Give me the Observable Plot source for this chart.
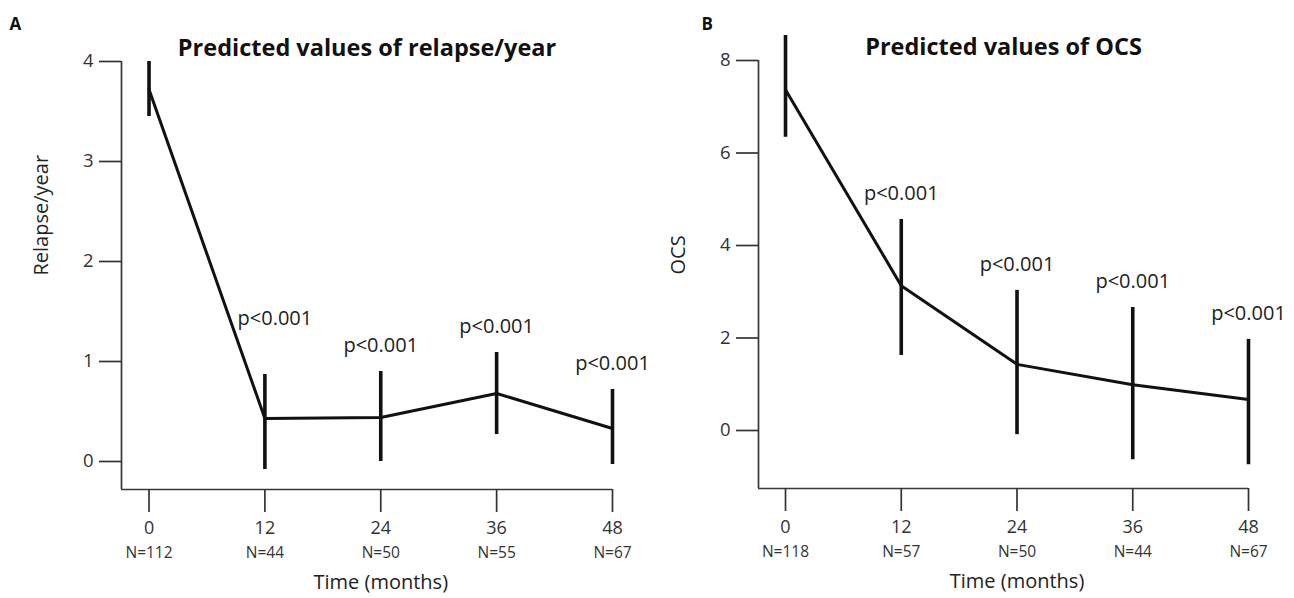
<!DOCTYPE html>
<html>
<head>
<meta charset="utf-8">
<script src="https://cdn.jsdelivr.net/npm/d3@7"></script>
<script src="https://cdn.jsdelivr.net/npm/@observablehq/plot@0.6"></script>
<style>
  body { margin: 0; background: #fff; }
  #wrap { position: relative; width: 1294px; height: 598px; overflow: hidden; font-family: "Open Sans", sans-serif; }
  .panel { position: absolute; top: 0; }
</style>
</head>
<body>
<div id="wrap"></div>
<script>
// ---- data ----
const months = [0, 12, 24, 36, 48];

const relapseMean = [3.72, 0.43, 0.44, 0.68, 0.33];
const relapseLow  = [3.45, -0.08, 0.00, 0.27, -0.03];
const relapseHigh = [4.00, 0.87, 0.90, 1.09, 0.72];
const relapseN    = [112, 44, 50, 55, 67];
const relapseTicks = [0, 1, 2, 3, 4];

const ocsMean = [7.37, 3.13, 1.43, 0.99, 0.67];
const ocsLow  = [6.34, 1.62, -0.09, -0.63, -0.74];
const ocsHigh = [8.54, 4.56, 3.03, 2.66, 1.97];
const ocsN    = [118, 57, 50, 44, 67];
const ocsTicks = [0, 2, 4, 6, 8];

const pLabels = ["", "p<0.001", "p<0.001", "p<0.001", "p<0.001"];

// ---- drawing ----
const AXIS = "#383838";
const INK = "#111";
const FONT = '"Open Sans", sans-serif';

function panel(cfg) {
  const rows = months.map((t, i) => ({
    t, mean: cfg.mean[i], lo: cfg.lo[i], hi: cfg.hi[i], n: cfg.n[i], p: pLabels[i], i
  }));
  const pRows = rows.filter(d => d.p);
  const firstP = pRows.filter((d, k) => k === 0);
  const restP = pRows.filter((d, k) => k > 0);
  return Plot.plot({
    width: 647,
    height: 598,
    marginLeft: cfg.ml,
    marginRight: cfg.mr,
    marginTop: cfg.mt,
    marginBottom: cfg.mb,
    style: { fontFamily: FONT, fontSize: "18px", color: "#333", background: "transparent", overflow: "visible" },
    x: { domain: cfg.xDomain, axis: null },
    y: { domain: cfg.yDomain, axis: null },
    marks: [
      // frame lines (left and bottom)
      Plot.ruleX([cfg.xDomain[0]], { stroke: AXIS, strokeWidth: 1.7 }),
      Plot.ruleY([cfg.yDomain[0]], { stroke: AXIS, strokeWidth: 1.7 }),
      // y axis
      Plot.axisY(cfg.yTicks, { tickSize: 22, tickPadding: 6, fontSize: 18.5, label: null, color: "#333", strokeWidth: 1.7, tickFormat: d => String(d) }),
      // x axis
      Plot.axisX(months, { tickSize: 23, tickPadding: 9, fontSize: 18, label: null, color: "#333", strokeWidth: 1.7, tickFormat: d => String(d) }),
      // N labels
      Plot.text(rows, { x: "t", frameAnchor: "bottom", dy: 68, text: d => "N=" + d.n, fontSize: 15.5, fill: "#333" }),
      // x label
      Plot.text(["Time (months)"], { x: () => 24, frameAnchor: "bottom", dy: 99, fontSize: 20, fill: "#222" }),
      // y label
      Plot.text([cfg.ylabel], { frameAnchor: "left", rotate: -90, dx: -80, fontSize: 20, fill: "#222" }),
      // title
      Plot.text([cfg.title], { frameAnchor: "top", dy: -22, fontSize: 23.5, fontWeight: "bold", fill: INK }),
      // panel letter
      Plot.text([cfg.letter], { frameAnchor: "top-left", dx: cfg.letterDx, dy: cfg.letterDy, textAnchor: "start", fontSize: 17, fontWeight: "bold", fill: INK }),
      // error bars
      Plot.ruleX(rows, { x: "t", y1: "lo", y2: "hi", stroke: INK, strokeWidth: 3.6 }),
      // mean line
      Plot.line(rows, { x: "t", y: "mean", stroke: INK, strokeWidth: 3, strokeLinejoin: "miter" }),
      // p-value labels
      Plot.text(firstP, { x: "t", y: "hi", text: "p", dx: cfg.firstPdx, dy: cfg.firstPdy, fontSize: 20, fill: "#222" }),
      Plot.text(restP, { x: "t", y: "hi", text: "p", dy: -26, fontSize: 20, fill: "#222" })
    ]
  });
}

const wrap = document.getElementById("wrap");

const a = panel({
  letter: "A", title: "Predicted values of relapse/year", ylabel: "Relapse/year",
  mean: relapseMean, lo: relapseLow, hi: relapseHigh, n: relapseN, yTicks: relapseTicks,
  xDomain: [-2.85, 48], yDomain: [-0.28, 4],
  ml: 121, mr: 35, mt: 61, mb: 109,
  letterDx: -112, letterDy: -44, firstPdx: 10, firstPdy: -56
});
const divA = document.createElement("div");
divA.className = "panel"; divA.style.left = "0px";
divA.appendChild(a);
wrap.appendChild(divA);

const b = panel({
  letter: "B", title: "Predicted values of OCS", ylabel: "OCS",
  mean: ocsMean, lo: ocsLow, hi: ocsHigh, n: ocsN, yTicks: ocsTicks,
  xDomain: [-2.8, 48], yDomain: [-1.254, 8],
  ml: 111, mr: 46, mt: 60, mb: 110,
  letterDx: -57, letterDy: -43, firstPdx: 0, firstPdy: -26
});
const divB = document.createElement("div");
divB.className = "panel"; divB.style.left = "647px";
divB.appendChild(b);
wrap.appendChild(divB);
</script>
</body>
</html>
